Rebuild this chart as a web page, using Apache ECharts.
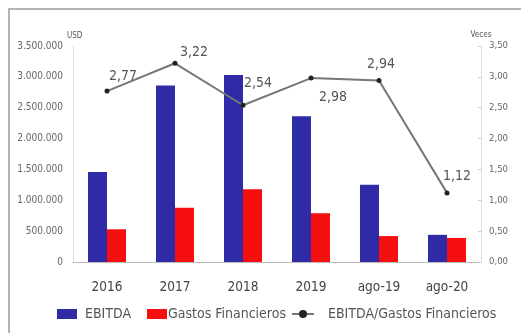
<!DOCTYPE html>
<html>
<head>
<meta charset="utf-8">
<style>
  html, body { margin: 0; padding: 0; background: #fff; }
  #chart { width: 521px; height: 333px; }
</style>
<script src="https://cdn.jsdelivr.net/npm/echarts@6/dist/echarts.min.js"></script>
</head>
<body>
<div id="chart"></div>
<script>
// Periods shown on the category axis
const categories = ['2016', '2017', '2018', '2019', 'ago-19', 'ago-20'];
// EBITDA and financial expenses, in USD
const ebitda = [1460000, 2860000, 3030000, 2360000, 1250000, 440000];
const gastosFinancieros = [530000, 880000, 1180000, 790000, 420000, 390000];
// Coverage ratio EBITDA / Gastos Financieros (times)
const cobertura = [2.77, 3.22, 2.54, 2.98, 2.94, 1.12];
// Left and right axis tick labels
const usdTicks = ['0', '500.000', '1.000.000', '1.500.000', '2.000.000', '2.500.000', '3.000.000', '3.500.000'];
const vecesTicks = ['0,00', '0,50', '1,00', '1,50', '2,00', '2,50', '3,00', '3,50'];

// label placement around each ratio point
const labelOffsets = [[16, 0], [19, 4], [15, -7], [22, 34], [2, -2], [10, -2]];

const FONT = "'Liberation Sans Narrow', 'DejaVu Sans Condensed', 'Liberation Sans', sans-serif";
const legendText = { color: '#555', fontSize: 14, fontFamily: FONT };

const chart = echarts.init(document.getElementById('chart'), null, { renderer: 'canvas' });

chart.setOption({
  backgroundColor: '#fff',
  animation: false,
  textStyle: { fontFamily: FONT },
  graphic: [{
    type: 'rect',
    shape: { x: 9, y: 9, width: 560, height: 360 },
    style: { fill: 'none', stroke: '#b4b4b4', lineWidth: 2 }
  }],
  grid: { left: 73, right: 40, top: 46, bottom: 71 },
  legend: [{
    top: 302, left: 52,
    itemWidth: 20, itemHeight: 10,
    textStyle: Object.assign({ padding: [0, 0, 0, 3] }, legendText),
    data: [{ name: 'EBITDA', icon: 'rect' }]
  }, {
    top: 302, left: 142,
    itemWidth: 20, itemHeight: 10,
    textStyle: Object.assign({ padding: [0, 0, 0, -4] }, legendText),
    data: [{ name: 'Gastos Financieros', icon: 'rect' }]
  }, {
    top: 302, left: 286,
    itemWidth: 22, itemHeight: 10,
    textStyle: Object.assign({ padding: [0, 0, 0, 9] }, legendText),
    data: [{ name: 'EBITDA/Gastos Financieros' }]
  }],
  xAxis: {
    type: 'category',
    data: categories,
    axisLine: { lineStyle: { color: '#bbb', width: 1 } },
    axisTick: { show: false },
    axisLabel: { color: '#444', fontSize: 13.5, margin: 18, fontFamily: FONT }
  },
  yAxis: [{
    type: 'value',
    name: 'USD',
    nameGap: 6,
    nameTextStyle: { color: '#555', fontSize: 8, align: 'left', padding: [0, 0, 0, -6] },
    min: 0, max: 3500000, interval: 500000,
    axisLine: { show: true, lineStyle: { color: '#ddd' } },
    axisTick: { show: false },
    splitLine: { show: false },
    axisLabel: {
      color: '#666', fontSize: 10, margin: 10, fontFamily: FONT,
      formatter: (v) => usdTicks[Math.round(v / 500000)]
    }
  }, {
    type: 'value',
    name: 'Veces',
    nameGap: 7,
    nameTextStyle: { color: '#555', fontSize: 8, align: 'center' },
    position: 'right',
    min: 0, max: 3.5, interval: 0.5,
    axisLine: { show: true, lineStyle: { color: '#ddd' } },
    axisTick: { show: true, length: 3, inside: true, lineStyle: { color: '#ccc' } },
    splitLine: { show: false },
    axisLabel: {
      color: '#666', fontSize: 9.5, margin: 8, fontFamily: FONT,
      formatter: (v) => vecesTicks[Math.round(v / 0.5)]
    }
  }],
  series: [{
    name: 'EBITDA',
    type: 'bar',
    data: ebitda,
    barWidth: 19,
    barGap: '0%',
    itemStyle: { color: '#2f2aa6' }
  }, {
    name: 'Gastos Financieros',
    type: 'bar',
    data: gastosFinancieros,
    barWidth: 19,
    barGap: '0%',
    itemStyle: { color: '#f5100f' }
  }, {
    name: 'EBITDA/Gastos Financieros',
    type: 'line',
    yAxisIndex: 1,
    data: cobertura.map((v, i) => ({
      value: v,
      label: { offset: labelOffsets[i] }
    })),
    symbol: 'circle',
    symbolSize: 5,
    itemStyle: { color: '#222' },
    lineStyle: { color: '#777', width: 2 },
    label: {
      show: true,
      position: 'top',
      color: '#555',
      fontSize: 14,
      fontFamily: FONT,
      formatter: (p) => p.value.toFixed(2).replace('.', ',')
    }
  }]
});
</script>
</body>
</html>
